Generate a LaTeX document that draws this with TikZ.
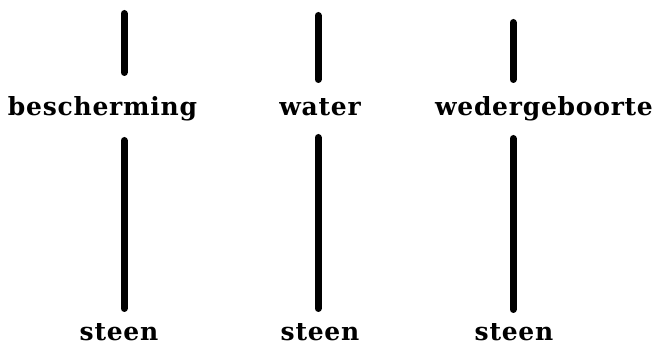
\documentclass[tikz,border=0pt]{standalone}
\usepackage{fontspec}
\newfontfamily\lblfont[LetterSpace=3]{DejaVu Serif}
\begin{document}
\begin{tikzpicture}[x=1pt,y=1pt,
  lbl/.style={font=\fontsize{25}{27}\selectfont\lblfont\bfseries, inner sep=0pt, anchor=base},
  bar/.style={line width=7pt, line cap=round, black}]
\useasboundingbox (0,0) rectangle (658,345);
% labels
\node[lbl] (b) at (102.5,229) {bescherming};
\node[lbl] (w) at (320,229) {water};
\node[lbl] (g) at (544,229) {wedergeboorte};
\node[lbl] (s1) at (119,4.5) {steen};
\node[lbl] (s2) at (320,4.5) {steen};
\node[lbl] (s3) at (514,4.5) {steen};
% endpoints
\coordinate (t1a) at (124,331.5); \coordinate (t1b) at (124,272.5);
\coordinate (u1a) at (124,204.5); \coordinate (u1b) at (124,36.5);
\coordinate (t2a) at (318,329.5); \coordinate (t2b) at (318,265.5);
\coordinate (u2a) at (318,207.5); \coordinate (u2b) at (318,36.5);
\coordinate (t3a) at (513,322.5); \coordinate (t3b) at (513,265.5);
\coordinate (u3a) at (513,206.5); \coordinate (u3b) at (513,35.5);
\draw[bar] (t1a) -- (t1b);
\draw[bar] (u1a) -- (u1b);
\draw[bar] (t2a) -- (t2b);
\draw[bar] (u2a) -- (u2b);
\draw[bar] (t3a) -- (t3b);
\draw[bar] (u3a) -- (u3b);
\end{tikzpicture}
\end{document}
